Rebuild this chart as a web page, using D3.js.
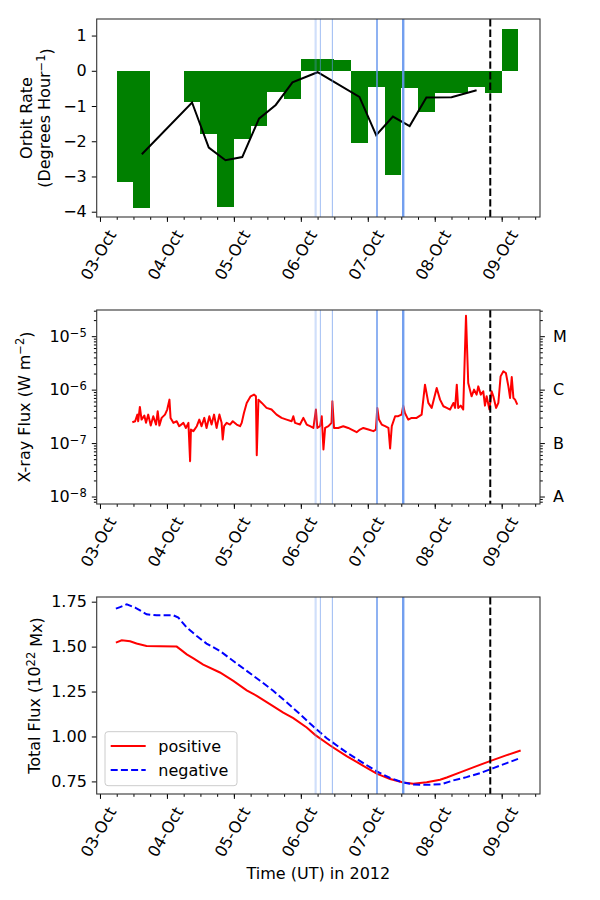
<!DOCTYPE html>
<html>
<head>
<meta charset="utf-8">
<script src="https://cdn.jsdelivr.net/npm/d3@7"></script>
<style>
  body { margin: 0; background: #fff; }
  text { font-family: "DejaVu Sans", sans-serif; }
</style>
</head>
<body>
<div id="chart"></div>
<script>
const FRAME_WIDTH = 600;
const FRAME_HEIGHT = 900;
const PLOT_LEFT = 96.7;
const PLOT_RIGHT = 540;
const PANELS = [
    {top: 19, bottom: 217},
    {top: 310, bottom: 504},
    {top: 597, bottom: 794}
];
const FONT = 16;

// all times are hours since 2012-10-03 00:00 UT
const barHours = [6, 12, 18, 24, 30, 36, 42, 48, 54, 60, 66, 72,
                  78, 84, 90, 96, 102, 108, 114, 120, 126, 132, 138, 144];
const barRates = [-3.17, -3.9, -0.015, -0.015, -0.9, -1.79, -3.88, -1.93, -1.56, -0.6, -0.79, 0.34,
                  0.34, 0.3, -2.04, -0.47, -2.97, -0.49, -1.18, -0.62, -0.62, -0.45, -0.63, 1.2];

const rateHours = [15, 33, 39, 45, 51, 57, 63, 69, 78, 93, 99, 105, 111, 117, 126, 135];
const rateValues = [-2.37, -0.9, -2.18, -2.54, -2.45, -1.36, -0.97, -0.33, -0.04, -0.74,
                    -1.83, -1.3, -1.57, -0.76, -0.75, -0.55];

const eventHours = [77.3, 79.0, 83.3, 99.3, 108.7];
const markerHour = 139.9;

const xrayHours = [11.6, 12.6, 13.4, 13.7, 14.3, 14.9, 15.9, 16.5, 17.3, 18.2, 19.1, 20.1,
    20.7, 21.3, 22.1, 23.3, 24.1, 24.9, 25.3, 26.3, 27.5, 28.4, 29.9, 30.8,
    31.7, 32.3, 32.6, 33.5, 34.7, 35.6, 36.4, 37.4, 38.2, 39.2, 40.0, 40.9,
    41.8, 42.8, 43.6, 44.0, 44.5, 45.4, 46.6, 47.6, 49.0, 50.2, 50.8, 51.6,
    52.6, 54.0, 55.2, 55.9, 56.2, 56.8, 58.0, 59.7, 61.5, 63.3, 65.1, 66.9,
    68.7, 69.3, 69.9, 71.7, 72.9, 74.1, 75.3, 76.5, 77.4, 77.9, 78.9, 79.5,
    80.1, 80.7, 81.9, 83.0, 83.3, 83.9, 85.4, 87.2, 89.0, 90.2, 92.0, 93.2,
    94.4, 96.2, 98.0, 98.9, 99.4, 100.0, 101.0, 102.2, 103.4, 104.0, 104.6, 105.8,
    106.9, 108.1, 108.7, 109.3, 110.5, 111.7, 113.5, 115.3, 116.5, 117.7, 118.9, 120.7,
    121.9, 123.1, 124.3, 125.5, 126.7, 127.3, 127.9, 128.4, 129.3, 130.2, 131.2, 132.0,
    133.2, 134.1, 135.0, 135.6, 136.5, 137.4, 138.0, 138.6, 139.6, 140.4, 141.0, 142.0,
    142.8, 143.6, 144.6, 145.5, 146.4, 147.0, 147.6, 148.2, 148.8, 149.6];
const xrayFlux = [2.45e-7, 2.56e-7, 3.41e-7, 2.56e-7, 4.74e-7, 2.75e-7, 3.27e-7, 2.39e-7, 3.41e-7, 2.13e-7, 3.18e-7, 2.22e-7,
    3.94e-7, 2.13e-7, 2.96e-7, 3.41e-7, 4.24e-7, 6.5e-7, 2.96e-7, 2.39e-7, 2.56e-7, 2.07e-7, 2.39e-7, 1.92e-7,
    2.39e-7, 4.59e-8, 1.79e-7, 1.67e-7, 2.07e-7, 2.75e-7, 2.07e-7, 2.96e-7, 1.92e-7, 3.18e-7, 2.22e-7, 3.41e-7,
    1.92e-7, 3.41e-7, 2.39e-7, 1.17e-7, 2.07e-7, 2.39e-7, 2.22e-7, 2.56e-7, 2.22e-7, 2.07e-7, 2.39e-7, 3.66e-7,
    5.64e-7, 7.51e-7, 8.07e-7, 7.51e-7, 5.94e-8, 6.5e-7, 5.64e-7, 4.55e-7, 4.24e-7, 3.41e-7, 2.96e-7, 2.75e-7,
    2.56e-7, 3.18e-7, 2.39e-7, 2.22e-7, 2.96e-7, 2.22e-7, 2.07e-7, 1.92e-7, 4.24e-7, 1.92e-7, 2.07e-7, 3.18e-7,
    7.58e-8, 1.92e-7, 2.07e-7, 2.39e-7, 6.05e-7, 1.92e-7, 1.92e-7, 2.07e-7, 1.92e-7, 1.79e-7, 1.6e-7, 1.79e-7,
    1.92e-7, 1.79e-7, 1.67e-7, 1.79e-7, 4.55e-7, 2.75e-7, 2.22e-7, 2.07e-7, 1.92e-7, 7.92e-8, 2.07e-7, 3.18e-7,
    3.18e-7, 3.41e-7, 5.02e-7, 3.66e-7, 2.75e-7, 2.96e-7, 2.96e-7, 3.41e-7, 1.24e-6, 5.64e-7, 4.55e-7, 1.07e-6,
    6.5e-7, 4.89e-7, 4.55e-7, 4.24e-7, 5.64e-7, 4.55e-7, 1.24e-6, 4.55e-7, 5.02e-7, 4.24e-7, 2.4e-5, 1.33e-6,
    7.51e-7, 1.0e-6, 8.07e-7, 1.15e-6, 8.07e-7, 9.3e-7, 5.02e-7, 7.51e-7, 4.24e-7, 9.3e-7, 7.51e-7, 4.55e-7,
    5.64e-7, 1.77e-6, 2.2e-6, 2.05e-6, 1.15e-6, 6.98e-7, 1.72e-6, 6.98e-7, 6.5e-7, 5.25e-7];

const posHours = [5.7, 7.8, 10.8, 13.1, 16.7, 21.5, 27.5, 28.7, 31.1, 33.5, 37.0, 43.0, 47.8,
    52.6, 56.2, 60.9, 65.7, 69.3, 74.1, 77.1, 82.5, 88.4, 94.4, 99.2, 104.0, 108.7,
    112.3, 117.1, 121.9, 124.3, 129.1, 133.8, 139.8, 145.8, 150.8];
const posFlux = [1.522, 1.535, 1.53, 1.517, 1.504, 1.502, 1.5, 1.486, 1.457, 1.435, 1.4, 1.356, 1.309,
    1.257, 1.226, 1.18, 1.133, 1.102, 1.05, 1.009, 0.95, 0.891, 0.837, 0.793, 0.763, 0.744,
    0.737, 0.746, 0.759, 0.772, 0.8, 0.828, 0.863, 0.896, 0.922];
const negHours = [5.7, 7.2, 9.6, 12.6, 16.7, 20.3, 26.3, 28.1, 31.1, 34.7, 38.2, 43.0, 47.8,
    52.6, 57.4, 62.1, 66.9, 71.7, 76.5, 81.3, 88.4, 94.4, 99.2, 104.0, 108.7, 112.3,
    117.1, 122.5, 126.7, 131.4, 136.2, 141.0, 145.8, 150.6];
const negFlux = [1.711, 1.72, 1.735, 1.717, 1.68, 1.674, 1.674, 1.661, 1.606, 1.559, 1.517, 1.476, 1.42,
    1.365, 1.31, 1.254, 1.19, 1.124, 1.055, 0.99, 0.911, 0.852, 0.806, 0.769, 0.744, 0.733,
    0.731, 0.735, 0.756, 0.774, 0.796, 0.824, 0.852, 0.88];

const goesClasses = ["A", "B", "C", "M"];
const goesLevels = [1e-8, 1e-7, 1e-6, 1e-5];
const rateTicks = [-4, -3, -2, -1, 0, 1];
const xrayTicks = [1e-8, 1e-7, 1e-6, 1e-5];
const fluxTicks = [0.75, 1.0, 1.25, 1.5, 1.75];
const legendNames = ["positive", "negative"];

const T0 = Date.UTC(2012, 9, 3);
const toDate = (h) => new Date(T0 + h * 3600e3);

const svg = d3.select("#chart")
  .append("svg")
    .attr("width", FRAME_WIDTH)
    .attr("height", FRAME_HEIGHT);

const x = d3.scaleUtc()
    .domain([toDate(-0.049 * 24), toDate(6.572 * 24)])
    .range([PLOT_LEFT, PLOT_RIGHT]);

const yRate = d3.scaleLinear().domain([-4.15, 1.47]).range([PANELS[0].bottom, PANELS[0].top]);
const yXray = d3.scaleLog().domain([Math.pow(10, -8.14), Math.pow(10, -4.51)]).range([PANELS[1].bottom, PANELS[1].top]);
const yFlux = d3.scaleLinear().domain([0.68, 1.776]).range([PANELS[2].bottom, PANELS[2].top]);

// clip paths for each panel
PANELS.forEach((p, i) => {
    svg.append("clipPath").attr("id", "clip" + i)
      .append("rect")
        .attr("x", PLOT_LEFT).attr("y", p.top)
        .attr("width", PLOT_RIGHT - PLOT_LEFT).attr("height", p.bottom - p.top);
});

function panelGroup(i) {
    return svg.append("g").attr("clip-path", "url(#clip" + i + ")");
}

// ---------- panel 1: orbit rate ----------
const g1 = panelGroup(0);
g1.selectAll(".bar")
  .data(barHours)
  .enter()
  .append("rect")
    .attr("class", "bar")
    .attr("x", (d) => x(toDate(d)))
    .attr("width", (d) => x(toDate(d + 6)) - x(toDate(d)))
    .attr("y", (d, i) => yRate(Math.max(0, barRates[i])))
    .attr("height", (d, i) => Math.abs(yRate(barRates[i]) - yRate(0)))
    .attr("fill", "green")
    .attr("shape-rendering", "crispEdges");

g1.append("path")
  .datum(rateHours)
  .attr("d", d3.line().x((d) => x(toDate(d))).y((d, i) => yRate(rateValues[i])))
  .attr("fill", "none")
  .attr("stroke", "black")
  .attr("stroke-width", 2);

// ---------- panel 2: x-ray flux ----------
const g2 = panelGroup(1);
g2.append("path")
  .datum(xrayHours)
  .attr("d", d3.line().x((d) => x(toDate(d))).y((d, i) => yXray(xrayFlux[i])))
  .attr("fill", "none")
  .attr("stroke", "red")
  .attr("stroke-width", 2)
  .attr("stroke-linejoin", "round");

// ---------- panel 3: total flux ----------
const g3 = panelGroup(2);
g3.append("path")
  .datum(posHours)
  .attr("d", d3.line().x((d) => x(toDate(d))).y((d, i) => yFlux(posFlux[i])))
  .attr("fill", "none")
  .attr("stroke", "red")
  .attr("stroke-width", 2);
g3.append("path")
  .datum(negHours)
  .attr("d", d3.line().x((d) => x(toDate(d))).y((d, i) => yFlux(negFlux[i])))
  .attr("fill", "none")
  .attr("stroke", "blue")
  .attr("stroke-width", 2)
  .attr("stroke-dasharray", "7,3.2");

// event lines and the dashed marker on every panel
const EVENT_WIDTH = [2.2, 1, 1, 1.8, 2.4];
const EVENT_OPACITY = [0.3, 0.6, 0.65, 0.8, 0.9];
PANELS.forEach((p, i) => {
    svg.append("g").selectAll("line")
      .data(eventHours)
      .enter()
      .append("line")
        .attr("x1", (d) => x(toDate(d))).attr("x2", (d) => x(toDate(d)))
        .attr("y1", p.top).attr("y2", p.bottom)
        .attr("stroke", "cornflowerblue")
        .attr("stroke-width", (d, j) => EVENT_WIDTH[j])
        .attr("stroke-opacity", (d, j) => EVENT_OPACITY[j]);
    svg.append("line")
        .attr("x1", x(toDate(markerHour))).attr("x2", x(toDate(markerHour)))
        .attr("y1", p.top).attr("y2", p.bottom)
        .attr("stroke", "black")
        .attr("stroke-width", 2)
        .attr("stroke-dasharray", "7.4,3.2");
});

// ---------- axes ----------
function styleAxis(g) {
    g.select(".domain").remove();
    g.selectAll("line").attr("stroke", "black").attr("stroke-width", 1);
    g.selectAll("text").attr("font-size", FONT).attr("fill", "black")
      .attr("font-family", "DejaVu Sans, sans-serif");
}

PANELS.forEach((p) => {
    // minor time ticks every 6 hours
    svg.append("g")
      .attr("transform", "translate(0," + p.bottom + ")")
      .call(d3.axisBottom(x).ticks(d3.utcHour.every(6)).tickSize(2.8).tickFormat(""))
      .call(styleAxis);

    const xa = svg.append("g")
      .attr("transform", "translate(0," + p.bottom + ")")
      .call(d3.axisBottom(x).ticks(d3.utcDay.every(1)).tickSize(4.9).tickFormat(d3.utcFormat("%d-%b")))
      .call(styleAxis);
    xa.selectAll("text")
      .attr("y", 0)
      .attr("dy", "0.35em")
      .attr("text-anchor", "middle")
      .attr("transform", "translate(-2,38) rotate(-60)");
});

// panel 1 y axis
svg.append("g")
  .attr("transform", "translate(" + PLOT_LEFT + ",0)")
  .call(d3.axisLeft(yRate).tickValues(rateTicks).tickSize(4.9).tickPadding(5).tickFormat(d3.format("d")))
  .call(styleAxis);

// panel 2 y axes (log) with minor ticks
const xrayMinor = [];
for (let e = -9; e <= -5; e++) {
    for (let k = 2; k <= 9; k++) {
        const v = k * Math.pow(10, e);
        if (v > yXray.domain()[0] && v < yXray.domain()[1]) xrayMinor.push(v);
    }
}
svg.append("g")
  .attr("transform", "translate(" + PLOT_LEFT + ",0)")
  .call(d3.axisLeft(yXray).tickValues(xrayMinor).tickSize(2.8).tickFormat(""))
  .call(styleAxis);
const ly = svg.append("g")
  .attr("transform", "translate(" + PLOT_LEFT + ",0)")
  .call(d3.axisLeft(yXray).tickValues(xrayTicks).tickSize(4.9).tickPadding(5).tickFormat(""))
  .call(styleAxis);
ly.selectAll(".tick").append("text")
  .attr("x", -10).attr("dy", "0.32em")
  .attr("text-anchor", "end")
  .attr("font-size", FONT)
  .attr("fill", "black")
  .each(function(d) {
      const t = d3.select(this);
      t.append("tspan").text("10");
      t.append("tspan").attr("dy", "-0.45em").attr("font-size", 11.5)
        .text("\u2212" + Math.round(-Math.log10(d)));
  });

svg.append("g")
  .attr("transform", "translate(" + PLOT_RIGHT + ",0)")
  .call(d3.axisRight(yXray).tickValues(xrayMinor).tickSize(2.8).tickFormat(""))
  .call(styleAxis);
svg.append("g")
  .attr("transform", "translate(" + PLOT_RIGHT + ",0)")
  .call(d3.axisRight(yXray).tickValues(goesLevels).tickSize(4.9).tickPadding(8)
        .tickFormat((d, i) => goesClasses[i]))
  .call(styleAxis);

// panel 3 y axis
svg.append("g")
  .attr("transform", "translate(" + PLOT_LEFT + ",0)")
  .call(d3.axisLeft(yFlux).tickValues(fluxTicks).tickSize(4.9).tickPadding(5).tickFormat(d3.format(".2f")))
  .call(styleAxis);

// frames
PANELS.forEach((p) => {
    svg.append("rect")
      .attr("x", PLOT_LEFT).attr("y", p.top)
      .attr("width", PLOT_RIGHT - PLOT_LEFT).attr("height", p.bottom - p.top)
      .attr("fill", "none")
      .attr("stroke", "#333")
      .attr("stroke-width", 1.1);
});

// ---------- labels ----------
function yLabel(cx, cy, lines) {
    const t = svg.append("text")
      .attr("transform", "translate(" + cx + "," + cy + ") rotate(-90)")
      .attr("text-anchor", "middle")
      .attr("font-size", FONT);
    lines.forEach((parts, li) => {
        parts.forEach((part, pi) => {
            const s = t.append("tspan").text(part.t);
            if (pi === 0) s.attr("x", 0).attr("y", li * 18.5);
            if (part.sup) s.attr("dy", "-0.45em").attr("font-size", 11.5);
            if (part.after) s.attr("dy", "0.45em");
        });
    });
    return t;
}

yLabel(31.5, (PANELS[0].top + PANELS[0].bottom) / 2, [
    [{t: "Orbit Rate"}],
    [{t: "(Degrees Hour"}, {t: "\u22121", sup: true}, {t: ")", after: true}]
]);
yLabel(29.5, (PANELS[1].top + PANELS[1].bottom) / 2, [
    [{t: "X-ray Flux (W m"}, {t: "\u22122", sup: true}, {t: ")", after: true}]
]);
yLabel(40, (PANELS[2].top + PANELS[2].bottom) / 2, [
    [{t: "Total Flux (10"}, {t: "22", sup: true}, {t: " Mx)", after: true}]
]);

svg.append("text")
  .attr("x", (PLOT_LEFT + PLOT_RIGHT) / 2)
  .attr("y", 879)
  .attr("text-anchor", "middle")
  .attr("font-size", FONT)
  .text("Time (UT) in 2012");

// ---------- legend ----------
const legend = svg.append("g").attr("transform", "translate(105,731.7)");
legend.append("rect")
  .attr("width", 132).attr("height", 54)
  .attr("rx", 3)
  .attr("fill", "white").attr("fill-opacity", 0.8)
  .attr("stroke", "#ccc");
const LEGEND_STYLE = [{c: "red", dash: null}, {c: "blue", dash: "7,3.2"}];
legendNames.forEach((name, i) => {
    const yy = 14.3 + i * 24;
    legend.append("line")
      .attr("x1", 5.7).attr("x2", 40.7).attr("y1", yy).attr("y2", yy)
      .attr("stroke", LEGEND_STYLE[i].c)
      .attr("stroke-width", 2)
      .attr("stroke-dasharray", LEGEND_STYLE[i].dash);
    legend.append("text")
      .attr("x", 53.3).attr("y", yy + 5.8)
      .attr("font-size", FONT)
      .text(name);
});
</script>
</body>
</html>
